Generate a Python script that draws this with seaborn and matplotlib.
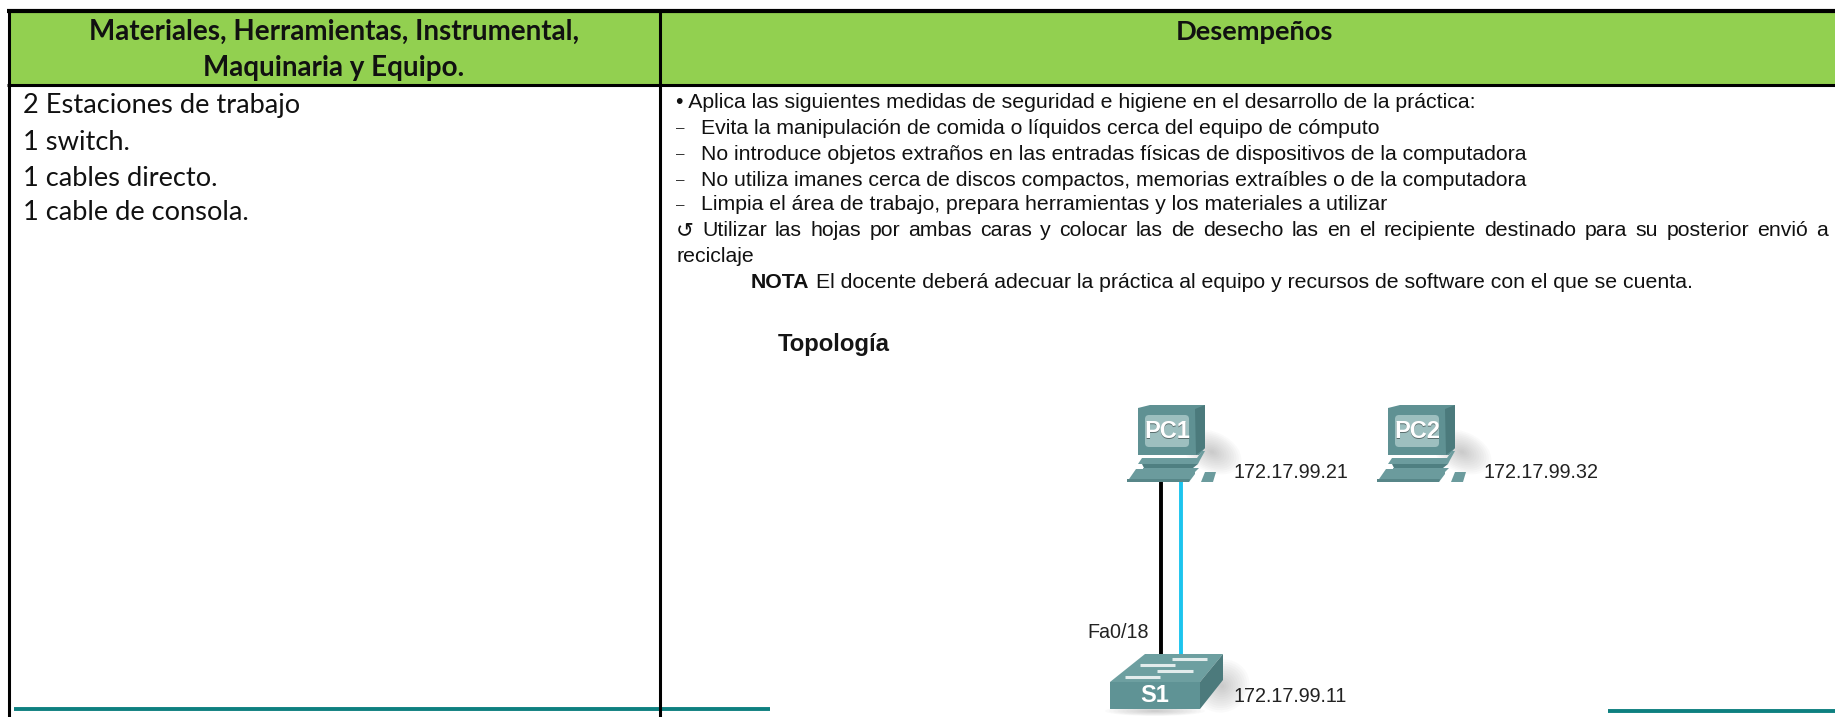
import matplotlib
matplotlib.use("Agg")
import matplotlib.pyplot as plt
from matplotlib.patches import Polygon, FancyBboxPatch, Rectangle, Ellipse
import seaborn as sns

# text of the document
header_left = ["Materiales, Herramientas, Instrumental,", "Maquinaria y Equipo."]
header_right = "Desempeños"
materiales = ["2 Estaciones de trabajo", "1 switch.", "1 cables directo.", "1 cable de consola."]
intro = "• Aplica las siguientes medidas de seguridad e higiene en el desarrollo de la práctica:"
medidas = [
    "Evita la manipulación de comida o líquidos cerca del equipo de cómputo",
    "No introduce objetos extraños en las entradas físicas de dispositivos de la computadora",
    "No utiliza imanes cerca de discos compactos, memorias extraíbles o de la computadora",
    "Limpia el área de trabajo, prepara herramientas y los materiales a utilizar",
]
reciclaje = "↺ Utilizar las hojas por ambas caras y colocar las de desecho las en el recipiente destinado para su posterior envió a"
reciclaje_fin = "reciclaje"
nota_bold = "NOTA"
nota = "El docente deberá adecuar la práctica al equipo y recursos de software con el que se cuenta."
titulo = "Topología"
ips = ["172.17.99.21", "172.17.99.32", "172.17.99.11"]
puerto = "Fa0/18"

BODY = ["Liberation Sans", "DejaVu Sans"]
GREEN = "#92D050"
TEAL = "#0E8080"

sns.set_theme(style="white")
plt.rcParams["font.family"] = BODY

fig = plt.figure(figsize=(18.35, 7.17), dpi=100)
ax = fig.add_axes([0, 0, 1, 1])
ax.set_xlim(0, 1835)
ax.set_ylim(717, 0)
ax.axis("off")


def rule(x0, y0, x1, y1, color="black", lw=2.2, z=3):
    sns.lineplot(x=[x0, x1], y=[y0, y1], color=color, lw=lw, ax=ax, estimator=None,
                 sort=False, legend=False, zorder=z, solid_capstyle="butt")


def justified(text, x0, x1, y, size):
    # word spacing as in a justified paragraph
    words = text.split(" ")
    rend = fig.canvas.get_renderer()
    items = [ax.text(x0, y, w, fontsize=size, va="center", color="#111111") for w in words]
    widths = [t.get_window_extent(rend).width for t in items]
    gap = (x1 - x0 - sum(widths)) / (len(words) - 1)
    x = x0
    for t, w in zip(items, widths):
        t.set_x(x)
        x += w + gap


def poly(pts, color, z=5, alpha=1.0):
    ax.add_patch(Polygon(pts, closed=True, fc=color, ec="none", zorder=z, alpha=alpha))


def shadow(cx, cy, w, h, angle=0):
    # soft shadow from stacked see-through ellipses
    for i in range(1, 13):
        k = i / 12
        ax.add_patch(Ellipse((cx, cy), w * k, h * k, angle=angle, fc="#444444", ec="none",
                             alpha=0.022, zorder=2))


def computadora(dx, name):
    shadow(1212 + dx, 452, 62, 40, angle=25)
    poly([(1138 + dx, 408), (1150 + dx, 405), (1205 + dx, 405), (1205 + dx, 448), (1199 + dx, 455), (1138 + dx, 455)], "#5F9193")
    poly([(1195 + dx, 409), (1205 + dx, 405), (1205 + dx, 448), (1196 + dx, 455)], "#4B7A7C", z=6)
    ax.add_patch(FancyBboxPatch((1145 + dx, 415), 44, 32, boxstyle="round,pad=0,rounding_size=4",
                                fc="#9DBFBF", ec="none", zorder=6))
    ax.text(1167 + dx + 0.8, 432.8, name, fontsize=17, fontweight="bold", ha="center", va="center", color="#5A6E6E", zorder=7)
    ax.text(1167 + dx, 431.5, name, fontsize=17, fontweight="bold", ha="center", va="center", color="white", zorder=8)
    poly([(1142 + dx, 458), (1197 + dx, 458), (1202 + dx, 451), (1205 + dx, 451), (1200 + dx, 460), (1198 + dx, 464), (1138 + dx, 464)], "#6C9C9E")
    poly([(1142 + dx, 464), (1198 + dx, 464), (1193 + dx, 468), (1144 + dx, 468)], "#4F7F81")
    poly([(1143 + dx, 468), (1198 + dx, 468), (1199 + dx, 468), (1193 + dx, 474), (1143 + dx, 474)], "#6C9C9E")
    poly([(1136 + dx, 469), (1195 + dx, 469), (1195 + dx, 474), (1189 + dx, 482), (1127 + dx, 482)], "#6B9B9D")
    poly([(1127 + dx, 479), (1190 + dx, 479), (1189 + dx, 482), (1127 + dx, 482)], "#578688", z=6)
    poly([(1205 + dx, 472), (1216 + dx, 472), (1213 + dx, 482), (1201 + dx, 482)], "#6B9B9D")


def switch(name):
    shadow(1222, 686, 56, 52, angle=-30)
    shadow(1155, 711, 100, 10)
    poly([(1145, 654), (1223, 654), (1200, 682), (1110, 682)], "#6D9FA0")
    poly([(1110, 682), (1200, 682), (1200, 709), (1110, 709)], "#5F9395")
    poly([(1200, 682), (1223, 654), (1223, 680), (1200, 709)], "#4C7A7C")
    for x0, x1, y in [(1172, 1207, 659), (1140, 1175, 665), (1157, 1193, 671), (1125, 1160, 677)]:
        rule(x0, y, x1, y, color="#E2ECEC", lw=2.2, z=6)
    ax.text(1155, 696, name, fontsize=17, fontweight="bold", ha="center", va="center", color="white", zorder=8)


# header band and table lines
ax.add_patch(Rectangle((8, 12), 1827, 72, fc=GREEN, ec="none", zorder=1))
rule(7, 11, 1835, 11, lw=3)
rule(7, 84.5, 1835, 84.5, lw=2.2)
rule(8.5, 10, 8.5, 717)
rule(660, 11, 660, 717, lw=2.2)
rule(14, 709, 770, 709, color=TEAL, lw=2.8, z=2)
rule(1608, 711, 1835, 711, color=TEAL, lw=2.8, z=2)

# header text
for txt, y in zip(header_left, [32, 68]):
    ax.text(334, y, txt, fontsize=20, fontweight="bold", family="Lato", ha="center", va="center", color="#111111")
ax.text(1254, 32, header_right, fontsize=19.6, fontweight="bold", family="Lato", ha="center", va="center", color="#111111")

# left column
for txt, y in zip(materiales, [105, 142, 178, 213]):
    ax.text(23, y, txt, fontsize=19.6, family="Lato", va="center", color="#111111")

# right column
BODY_SIZE = 15.35
ax.text(676, 102, intro, fontsize=BODY_SIZE, va="center", color="#111111")
for txt, y in zip(medidas, [128, 154, 180, 205]):
    ax.text(676, y, "–", fontsize=11, va="center", color="#333333")
    ax.text(701, y, txt, fontsize=BODY_SIZE, va="center", color="#111111")
fig.canvas.draw()
justified(reciclaje, 676, 1828, 231, BODY_SIZE)
ax.text(676, 257, reciclaje_fin, fontsize=BODY_SIZE, va="center", color="#111111")
ax.text(751, 282, nota_bold, fontsize=BODY_SIZE, fontweight="bold", va="center", color="#111111")
ax.text(816, 282, nota, fontsize=BODY_SIZE, va="center", color="#111111")
ax.text(778, 344, titulo, fontsize=17.2, fontweight="bold", family="Liberation Sans", va="center", color="#151515")

# topology
rule(1161, 482, 1161, 656, color="black", lw=2.8)
rule(1181, 482, 1181, 656, color="#1CC4EE", lw=2.8)
computadora(0, "PC1")
computadora(250, "PC2")
switch("S1")
for txt, x, y in zip(ips, [1233, 1483, 1233], [473, 473, 697]):
    ax.text(x, y, txt, fontsize=14.2, va="center", color="#222222")
ax.text(1149, 633, puerto, fontsize=14.2, ha="right", va="center", color="#222222")

fig.savefig("out.png", dpi=100)
